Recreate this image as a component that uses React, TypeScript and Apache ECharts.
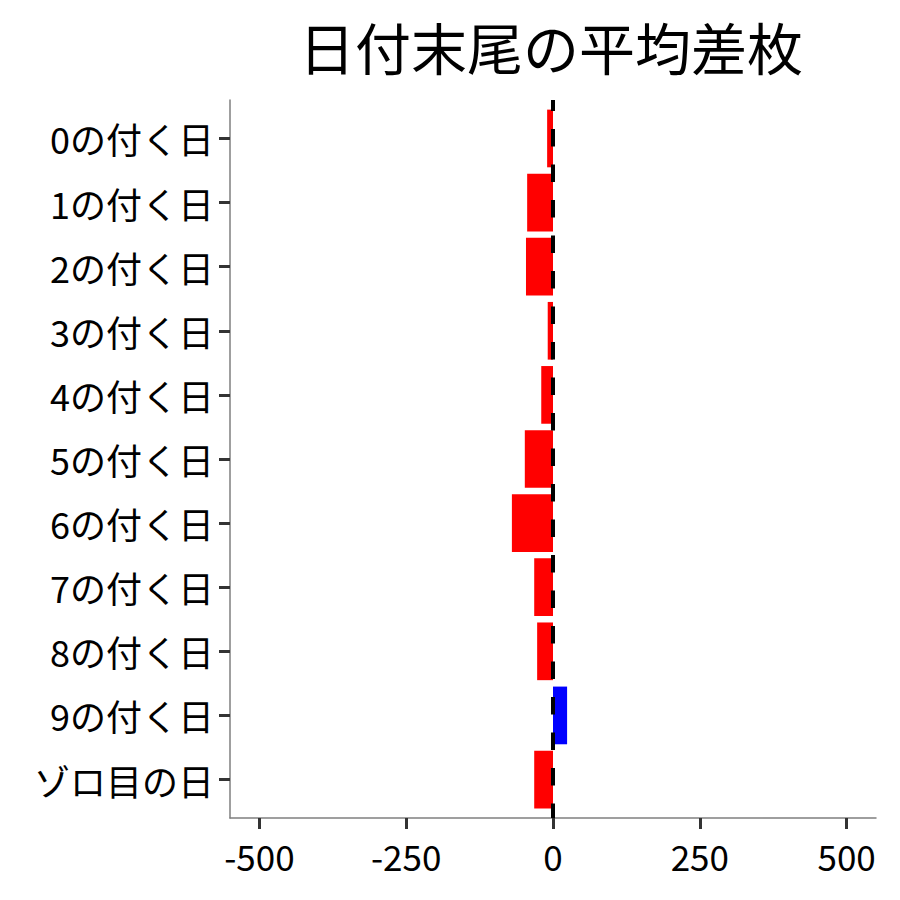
import React, { useEffect, useRef } from 'react';
import * as echarts from 'echarts';

// 日付末尾ごとのカテゴリ
const categories = [
    '0の付く日', '1の付く日', '2の付く日', '3の付く日', '4の付く日',
    '5の付く日', '6の付く日', '7の付く日', '8の付く日', '9の付く日', 'ゾロ目の日',
];
// 平均差枚
const diffValues = [-10, -44, -46, -9, -20, -48, -70, -32, -27, 24, -32];
const xTicks = [-500, -250, 0, 250, 500];
const yTicks = categories.map((_, i) => i);

const FONT = '"Noto Sans CJK JP", "Noto Sans", sans-serif';

const App: React.FC = () => {
    const chartRef = useRef<HTMLDivElement>(null);

    useEffect(() => {
        if (!chartRef.current) return;
        const chart = echarts.init(chartRef.current, undefined, { renderer: 'svg' });

        const barData = diffValues.map((v, i) => [v, i]);

        chart.setOption({
            animation: false,
            backgroundColor: '#ffffff',
            textStyle: { fontFamily: FONT },
            title: {
                text: '日付末尾の平均差枚',
                left: 546,
                top: 12,
                textAlign: 'center',
                textStyle: { fontSize: 56, fontWeight: 'normal', color: '#000', fontFamily: FONT },
            },
            grid: { left: 230, right: 24, top: 100, bottom: 82, containLabel: false },
            xAxis: {
                type: 'value',
                min: -550,
                max: 550,
                splitLine: { show: false },
                axisLine: { show: true, onZero: false, lineStyle: { color: '#7f7f7f', width: 1.5 } },
                axisTick: {
                    show: true,
                    customValues: xTicks,
                    length: 11,
                    lineStyle: { color: '#333', width: 3 },
                },
                axisLabel: {
                    customValues: xTicks,
                    margin: 20,
                    fontSize: 35,
                    color: '#000',
                    fontFamily: FONT,
                },
            },
            yAxis: {
                type: 'value',
                min: -0.6,
                max: 10.6,
                inverse: true,
                splitLine: { show: false },
                axisLine: { show: true, onZero: false, lineStyle: { color: '#7f7f7f', width: 1.5 } },
                axisTick: {
                    show: true,
                    customValues: yTicks,
                    length: 11,
                    lineStyle: { color: '#333', width: 3 },
                },
                axisLabel: {
                    customValues: yTicks,
                    margin: 16,
                    fontSize: 36,
                    color: '#000',
                    fontFamily: FONT,
                    formatter: (v: number) => categories[Math.round(v)] ?? '',
                },
            },
            series: [
                {
                    type: 'custom',
                    encode: { x: 0, y: 1 },
                    data: barData,
                    renderItem: (params: any, api: any) => {
                        const v = api.value(0);
                        const i = api.value(1);
                        const p0 = api.coord([0, i]);
                        const p1 = api.coord([v, i]);
                        const h = api.size([0, 0.9])[1];
                        return {
                            type: 'rect',
                            shape: {
                                x: Math.min(p0[0], p1[0]),
                                y: p0[1] - h / 2,
                                width: Math.abs(p1[0] - p0[0]),
                                height: h,
                            },
                            style: { fill: v < 0 ? '#ff0000' : '#0000ff' },
                        };
                    },
                    z: 2,
                },
                {
                    type: 'line',
                    data: [[0, 10.6], [0, -0.6]],
                    symbol: 'none',
                    silent: true,
                    lineStyle: { color: '#000', width: 4, type: [17.5, 18], dashOffset: 3 },
                    z: 5,
                },
            ],
        });

        return () => {
            chart.dispose();
        };
    }, []);

    return (
        <div
            ref={chartRef}
            style={{ position: 'fixed', left: 0, top: 0, width: '900px', height: '900px', background: '#fff' }}
        />
    );
};

export default App;
